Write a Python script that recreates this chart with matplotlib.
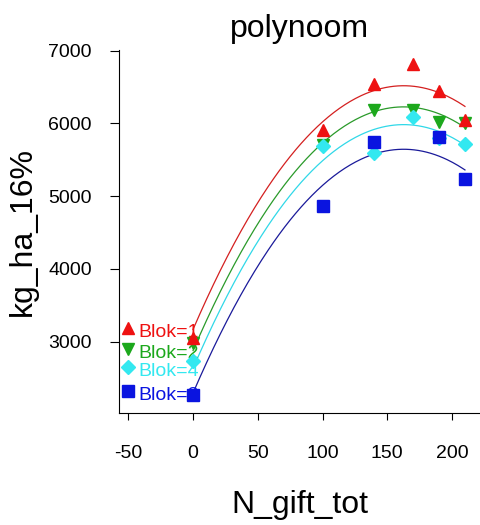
import numpy as np
import matplotlib
matplotlib.use('agg')
import matplotlib.pyplot as plt

plt.rcParams['font.family'] = ['Liberation Sans', 'DejaVu Sans']
plt.rcParams['axes.unicode_minus'] = False

# yield per block at each N dose (blok 3 has no plot at 170)
n_dose = [0, 100, 140, 170, 190, 210]
blok1 = [3050, 5910, 6542, 6817, 6446, 6050]
blok2 = [2980, 5703, 6184, 6184, 6020, 6000]
blok4 = [2730, 5690, 5590, 6085, 5800, 5713]
blok3_dose = [0, 100, 140, 190, 210]
blok3 = [2268, 4870, 5749, 5818, 5232]

blok_names = ['Blok=1', 'Blok=2', 'Blok=4', 'Blok=3']
label_y = [3190, 2900, 2650, 2320]
label_x = -50

series = [
    (n_dose, blok1, '^', '#ee1111', '#d42020', 9),
    (n_dose, blok2, 'v', '#1ca81c', '#2a9a2a', 9),
    (n_dose, blok4, 'D', '#33e8f0', '#30d8e8', 7.5),
    (blok3_dose, blok3, 's', '#0a14e0', '#1a1a9a', 9),
]

# quadratic in N with a separate intercept per block
rows, yy = [], []
for b, (xs, ys, *_rest) in enumerate(series):
    for x, y in zip(xs, ys):
        d = [0.0] * len(series)
        d[b] = 1.0
        rows.append(d + [x, x * x])
        yy.append(y)
coef = np.linalg.lstsq(np.array(rows), np.array(yy, dtype=float), rcond=None)[0]
b1, b2 = coef[-2], coef[-1]

fig = plt.figure(figsize=(4.81, 5.25), dpi=100)
ax = fig.add_axes([119 / 481, 1 - 413 / 525, 362 / 481, 363 / 525])

xx = np.linspace(0, 210, 200)
for b, (xs, ys, m, mc, lc, ms) in enumerate(series):
    ax.plot(xx, coef[b] + b1 * xx + b2 * xx ** 2, color=lc, lw=0.9, zorder=2)

draw_order = [1, 2, 3, 0]
for b in draw_order:
    xs, ys, m, mc, lc, ms = series[b]
    ax.plot(xs, ys, m, color=mc, ms=ms, mec=mc, ls='none', zorder=3)
    ax.plot([label_x], [label_y[b]], m, color=mc, ms=ms, mec=mc, ls='none', zorder=3)
    ax.annotate(blok_names[b], (label_x, label_y[b]), xytext=(7, -3),
                textcoords='offset points', ha='left', va='center',
                color=mc, fontsize=14, zorder=2.5)

ax.set_xlim(-57.2, 222.4)
ax.set_ylim(2020, 7010)
ax.set_xticks([-50, 0, 50, 100, 150, 200])
ax.set_yticks([3000, 4000, 5000, 6000, 7000])
ax.spines['top'].set_visible(False)
ax.spines['right'].set_visible(False)
ax.tick_params(axis='y', length=6.5, pad=13, labelsize=14)
ax.tick_params(axis='x', length=5, pad=18, labelsize=14)

ax.set_title('polynoom', fontsize=23, pad=9)
ax.set_xlabel('N_gift_tot', fontsize=23, va='baseline')
ax.xaxis.set_label_coords(0.5, -0.2755)
ax.set_ylabel('kg_ha_16%', fontsize=23)
ax.yaxis.set_label_coords(-0.224, 0.5)

fig.savefig('out.png', dpi=100)
